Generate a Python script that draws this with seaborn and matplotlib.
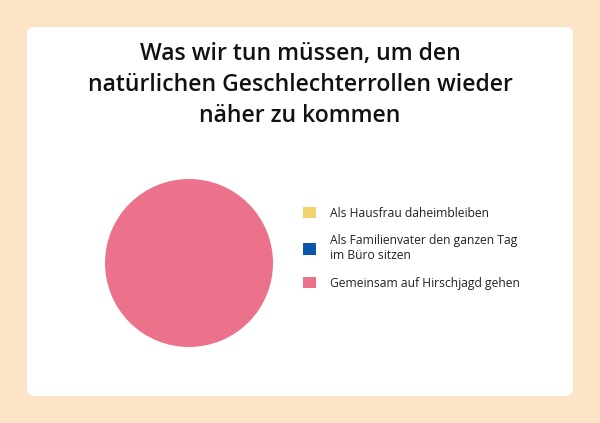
import matplotlib
matplotlib.use('Agg')
import matplotlib.pyplot as plt
from matplotlib.patches import FancyBboxPatch
import seaborn as sns

# data
labels = ['Als Hausfrau daheimbleiben',
          'Als Familienvater den ganzen Tag\nim Büro sitzen',
          'Gemeinsam auf Hirschjagd gehen']
values = [0, 0, 100]
colors = ['#F2D36E', '#0B56A8', '#EC718B']
title = 'Was wir tun müssen, um den\nnatürlichen Geschlechterrollen wieder\nnäher zu kommen'

sns.set_theme(style='white')
plt.rcParams['font.family'] = ['Open Sans', 'DejaVu Sans']

fig = plt.figure(figsize=(6, 4.23), dpi=100)
fig.patch.set_facecolor('#FEE4C7')

# white card behind everything
card = FancyBboxPatch((27/600, 27/423), 546/600, 369/423,
                      boxstyle='round,pad=0,rounding_size=0.015',
                      transform=fig.transFigure, facecolor='white',
                      edgecolor='none', zorder=-5)
fig.patches.append(card)

fig.text(0.5, 1 - 85/423, title, ha='center', va='center',
         fontsize=16.6, fontweight='semibold', color='#111111',
         linespacing=1.38)

ax = fig.add_axes([105/600, 76/423, 168/600, 168/423])
ax.set_zorder(2)
wedges, _ = ax.pie(values, colors=colors, startangle=90, counterclock=False,
                   radius=1, wedgeprops=dict(linewidth=0))
ax.set_xlim(-1, 1)
ax.set_ylim(-1, 1)
ax.set_aspect('equal')
ax.axis('off')

fig.legend(wedges, labels, loc='center left',
           bbox_to_anchor=(303/600, 1 - 248/423), frameon=False,
           fontsize=8.7, handlelength=1.1, handleheight=1.1,
           handletextpad=1.15, labelspacing=1.2, borderpad=0,
           borderaxespad=0, labelcolor='#222222')

fig.savefig('out.png', dpi=100, facecolor=fig.get_facecolor())
